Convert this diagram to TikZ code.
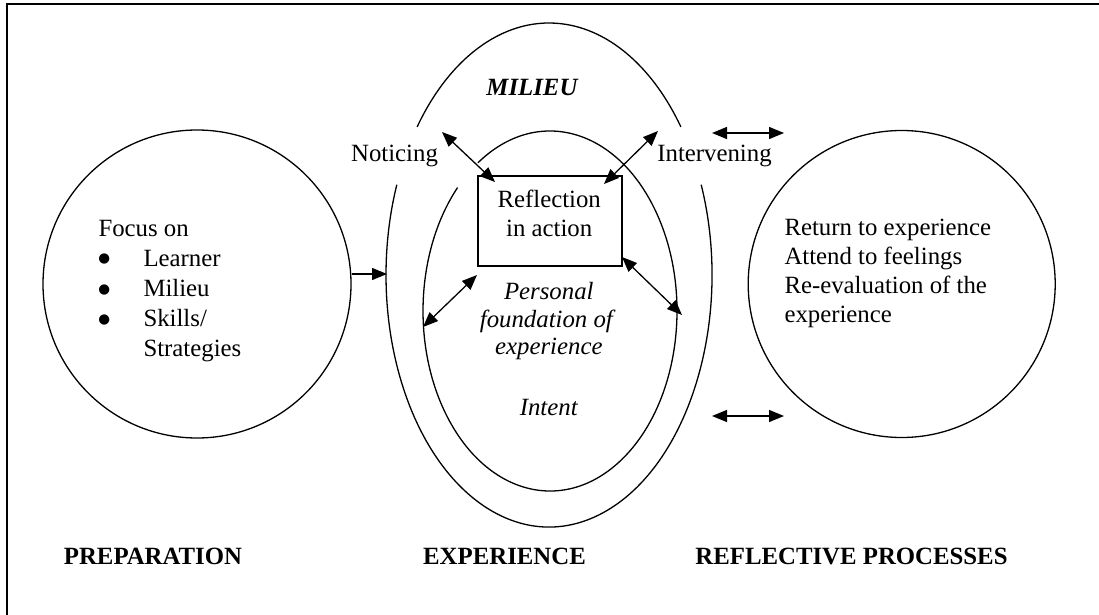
\documentclass[tikz,border=0pt]{standalone}
\usepackage{fontspec}
\setmainfont{Liberation Serif}
\newfontfamily\dejavubul{DejaVu Sans}
\usetikzlibrary{arrows.meta}
\begin{document}
\begin{tikzpicture}[x=1pt,y=-1pt,
  font=\fontsize{24.8}{28.5}\selectfont,
  line/.style={line width=1.3pt},
  tipx/.tip={Triangle[length=15pt,width=12pt]},
  dbl/.style={line width=1.3pt,tipx-tipx},
  sgl/.style={line width=1.3pt,-tipx},
  txt/.style={inner sep=0pt,anchor=base},
  txtl/.style={inner sep=0pt,anchor=base west},
  bul/.style={inner sep=0pt,anchor=center,font=\dejavubul\fontsize{13.5}{13.5}\selectfont},
  ring/.style={draw,circle,line width=1.3pt,minimum size=#1,inner sep=0pt},
  boxst/.style={draw,rectangle,line width=1.5pt,minimum width=144pt,minimum height=90pt,inner sep=0pt},
]
\useasboundingbox (0,0) rectangle (1099,615);
% frame
\draw[line width=2pt] (7,615) -- (7,4) -- (1099,4);

% left and right circles
\node[ring=308pt] (lc) at (197,284) {};
\node[ring=307pt] (rc) at (901.7,284) {};

% outer ellipse (MILIEU), with gaps at the labels
\draw[line] ({549+163*cos(216)},{275+252*sin(216)}) arc[start angle=216,end angle=324,x radius=163,y radius=252];
\draw[line] ({549+163*cos(339)},{275+252*sin(339)}) arc[start angle=339,end angle=561,x radius=163,y radius=252];
% inner ellipse
\draw[line] ({550+127*cos(235.4)},{311+180*sin(235.4)}) arc[start angle=235.4,end angle=583.3,x radius=127,y radius=180];

% reflection box
\node[boxst] (ria) at (550,221) {};
\node[txt] (ria1) at (549.2,207.7) {Reflection};
\node[txt] (ria2) at (549.2,236) {in action};

% labels
\node[txt] (milieu) at (532.5,95.7) {\textbf{\textit{MILIEU}}};
\node[txt] (notice) at (394.5,161.5) {Noticing};
\node[txt] (interv) at (714.5,161.3) {Intervening};
\node[txt] (pf1) at (548.8,299.3) {\textit{Personal}};
\node[txt] (pf2) at (547.8,327) {\textit{foundation of}};
\node[txt] (pf3) at (548.8,354.7) {\textit{experience}};
\node[txt] (intent) at (549,415) {\textit{Intent}};

% left circle text
\node[txtl] (focus) at (98.3,236) {Focus on};
\node[bul] (b1) at (104.3,259) {●};
\node[bul] (b2) at (104.3,289.7) {●};
\node[bul] (b3) at (104.3,319.7) {●};
\node[txtl] (l1) at (143.3,266) {Learner};
\node[txtl] (l2) at (143.3,296.7) {Milieu};
\node[txtl] (l3) at (143.3,326.7) {Skills/};
\node[txtl] (l4) at (143.3,356) {Strategies};

% right circle text
\node[txtl] (r1) at (784.3,235.3) {Return to experience};
\node[txtl] (r2) at (784.3,264.3) {Attend to feelings};
\node[txtl] (r3) at (784.3,293.3) {Re-evaluation of the};
\node[txtl] (r4) at (784.3,322) {experience};

% bottom headings
\node[txt] (prep) at (153,564) {\textbf{PREPARATION}};
\node[txt] (exper) at (504.5,564) {\textbf{EXPERIENCE}};
\node[txt] (refl) at (851.5,564) {\textbf{REFLECTIVE PROCESSES}};

% connector end points
\coordinate (outerW) at (387,274);
\coordinate (nA) at (442,132);
\coordinate (nB) at (495,182);
\coordinate (iA) at (658,131);
\coordinate (iB) at (604,184);
\coordinate (tA) at (712,133);
\coordinate (tB) at (784,133);
\coordinate (bA) at (712,416);
\coordinate (bB) at (784,416);
\coordinate (lA) at (477,275);
\coordinate (lB) at (423,327);
\coordinate (rA) at (622,257);
\coordinate (rB) at (682,315);

% connectors
\draw[sgl] (lc.east |- outerW) -- (outerW);
\draw[dbl] (nA) -- (nB);
\draw[dbl] (iA) -- (iB);
\draw[dbl] (tA) -- (tB);
\draw[dbl] (bA) -- (bB);
\draw[dbl] (lA) -- (lB);
\draw[dbl] (rA) -- (rB);
\end{tikzpicture}
\end{document}
